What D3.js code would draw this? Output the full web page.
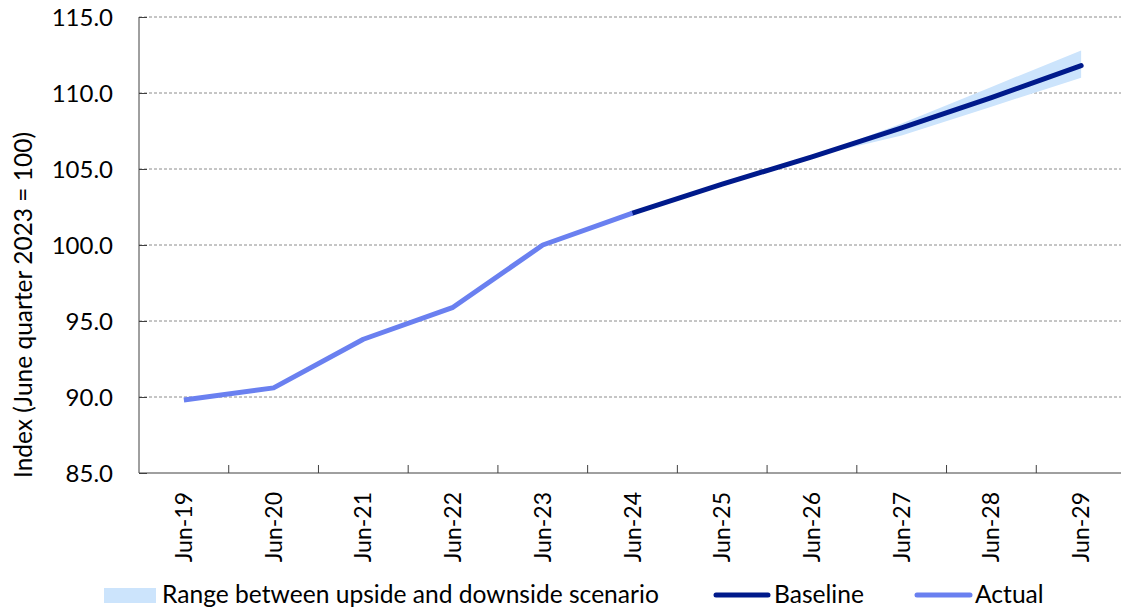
<!DOCTYPE html>
<html>
<head>
<meta charset="utf-8">
<script src="https://cdn.jsdelivr.net/npm/d3@7"></script>
<style>
  html, body { margin: 0; padding: 0; background: #fff; }
  svg { display: block; font-family: Lato, "Open Sans", sans-serif; }
</style>
</head>
<body>
<svg id="chart" width="1121" height="614"></svg>
<script>
// Index levels, June quarter 2023 = 100
const categories = ["Jun-19","Jun-20","Jun-21","Jun-22","Jun-23","Jun-24","Jun-25","Jun-26","Jun-27","Jun-28","Jun-29"];
const actualYears = ["Jun-19","Jun-20","Jun-21","Jun-22","Jun-23","Jun-24"];
const actualValues = [89.8, 90.6, 93.8, 95.9, 100.0, 102.1];
const baselineYears = ["Jun-24","Jun-25","Jun-26","Jun-27","Jun-28","Jun-29"];
const baselineValues = [102.1, 104.0, 105.8, 107.7, 109.7, 111.8];
const rangeYears = ["Jun-26","Jun-27","Jun-28","Jun-29"];
const rangeUpper = [105.8, 108.0, 110.4, 112.8];
const rangeLower = [105.8, 107.2, 109.1, 111.0];
const yTicks = [85, 90, 95, 100, 105, 110, 115];

const colors = { range: "#cce4fc", baseline: "#001a8b", actual: "#6a80f0", grid: "#8c8c8c", axis: "#404040" };

const svg = d3.select("#chart");
const plot = { left: 139, right: 1126, top: 17, bottom: 473 };

const x = d3.scaleBand().domain(categories).range([plot.left, plot.right]).padding(0);
const y = d3.scaleLinear().domain([85, 115]).range([plot.bottom, plot.top]);
const cx = c => x(c) + x.bandwidth() / 2;

// horizontal dashed gridlines
svg.append("g")
  .selectAll("line")
  .data(yTicks.filter(v => v > 85))
  .join("line")
  .attr("x1", plot.left).attr("x2", 1121)
  .attr("y1", d => y(d)).attr("y2", d => y(d))
  .attr("stroke", colors.grid).attr("stroke-width", 1)
  .attr("stroke-dasharray", "3,2");

// scenario range band
const area = d3.area()
  .x((d, i) => cx(rangeYears[i]))
  .y0((d, i) => y(rangeLower[i]))
  .y1((d, i) => y(rangeUpper[i]));
svg.append("path")
  .datum(rangeYears)
  .attr("d", area)
  .attr("fill", colors.range);

const line = (years) => d3.line().x((d, i) => cx(years[i])).y(d => y(d));

svg.append("path")
  .datum(baselineValues)
  .attr("d", line(baselineYears))
  .attr("fill", "none").attr("stroke", colors.baseline)
  .attr("stroke-width", 5).attr("stroke-linecap", "round").attr("stroke-linejoin", "round");

svg.append("path")
  .datum(actualValues)
  .attr("d", line(actualYears))
  .attr("fill", "none").attr("stroke", colors.actual)
  .attr("stroke-width", 5).attr("stroke-linecap", "butt").attr("stroke-linejoin", "round");

// y axis
const yAxis = svg.append("g")
  .attr("transform", `translate(${plot.left},0)`)
  .call(d3.axisRight(y).tickValues(yTicks).tickSize(8).tickFormat(d3.format(".1f")));
yAxis.select(".domain").attr("stroke", colors.axis).attr("d", `M0,${plot.top}V${plot.bottom}`);
yAxis.selectAll(".tick line").attr("stroke", colors.axis);
yAxis.selectAll(".tick text")
  .attr("x", -26).attr("text-anchor", "end").attr("dy", "0.35em")
  .attr("fill", "#000").style("font-size", "24px").style("font-family", "Lato, sans-serif");

// x axis with tick marks on category boundaries
const xAxis = svg.append("g").attr("transform", `translate(0,${plot.bottom})`);
xAxis.append("line")
  .attr("x1", plot.left).attr("x2", plot.right)
  .attr("stroke", colors.axis);
xAxis.selectAll("line.tick")
  .data(categories)
  .join("line").attr("class", "tick")
  .attr("x1", d => x(d) + x.bandwidth()).attr("x2", d => x(d) + x.bandwidth())
  .attr("y1", 0).attr("y2", -8)
  .attr("stroke", colors.axis);
xAxis.selectAll("text")
  .data(categories)
  .join("text")
  .attr("transform", d => `translate(${cx(d)},19) rotate(-90)`)
  .attr("text-anchor", "end").attr("dy", "0.35em")
  .style("font-size", "23px")
  .text(d => d);

// y axis title
svg.append("text")
  .attr("transform", "translate(23,305) rotate(-90)")
  .attr("text-anchor", "middle").attr("dy", "0.35em")
  .style("font-size", "24.5px")
  .text("Index (June quarter 2023 = 100)");

// legend
const legend = svg.append("g");
legend.append("rect").attr("x", 104).attr("y", 588).attr("width", 52).attr("height", 15).attr("fill", colors.range);
legend.append("text").attr("x", 162).attr("y", 603).style("font-size", "24.6px").text("Range between upside and downside scenario");
legend.append("line").attr("x1", 716).attr("x2", 768).attr("y1", 595).attr("y2", 595)
  .attr("stroke", colors.baseline).attr("stroke-width", 5).attr("stroke-linecap", "round");
legend.append("text").attr("x", 774).attr("y", 603).style("font-size", "24.6px").text("Baseline");
legend.append("line").attr("x1", 917).attr("x2", 970).attr("y1", 595).attr("y2", 595)
  .attr("stroke", colors.actual).attr("stroke-width", 5).attr("stroke-linecap", "round");
legend.append("text").attr("x", 975).attr("y", 603).style("font-size", "24.6px").text("Actual");
</script>
</body>
</html>
